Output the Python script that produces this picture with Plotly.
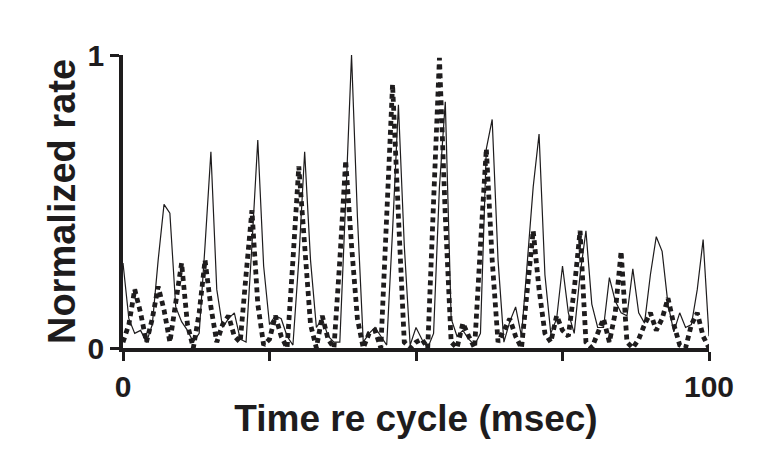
import plotly.graph_objects as go

# tempo em ms (bins de 1 ms)
tempo = list(range(101))

# taxa normalizada - linha continua
taxa_solida = [
    0.29, 0.10, 0.05, 0.06, 0.02, 0.08, 0.30, 0.49, 0.46, 0.14,
    0.09, 0.06, 0.02, 0.05, 0.35, 0.67, 0.20, 0.07, 0.10, 0.12,
    0.03, 0.02, 0.35, 0.71, 0.28, 0.08, 0.11, 0.10, 0.04, 0.01,
    0.30, 0.67, 0.30, 0.07, 0.10, 0.04, 0.02, 0.02, 0.50, 1.00,
    0.45, 0.02, 0.05, 0.07, 0.04, 0.01, 0.40, 0.83, 0.35, 0.01,
    0.07, 0.03, 0.00, 0.05, 0.55, 0.84, 0.10, 0.04, 0.06, 0.03,
    0.01, 0.05, 0.68, 0.78, 0.30, 0.02, 0.09, 0.14, 0.04, 0.30,
    0.55, 0.73, 0.25, 0.05, 0.10, 0.28, 0.12, 0.05, 0.25, 0.40,
    0.15, 0.07, 0.07, 0.24, 0.16, 0.12, 0.11, 0.27, 0.12, 0.085,
    0.25, 0.38, 0.33, 0.15, 0.055, 0.12, 0.07, 0.08, 0.20, 0.37,
    0.04,
]

# taxa normalizada - linha pontilhada
taxa_pontilhada = [
    0.02, 0.08, 0.20, 0.12, 0.02, 0.10, 0.21, 0.13, 0.02, 0.15,
    0.29, 0.08, 0.00, 0.12, 0.30, 0.14, 0.02, 0.08, 0.11, 0.04,
    0.02, 0.25, 0.47, 0.15, 0.01, 0.03, 0.11, 0.04, 0.00, 0.30,
    0.62, 0.35, 0.08, 0.00, 0.11, 0.03, 0.00, 0.30, 0.64, 0.35,
    0.10, 0.00, 0.05, 0.06, 0.00, 0.45, 0.90, 0.45, 0.02, 0.00,
    0.02, 0.03, 0.00, 0.50, 0.99, 0.45, 0.02, 0.00, 0.085, 0.04,
    0.00, 0.35, 0.68, 0.30, 0.02, 0.06, 0.10, 0.04, 0.00, 0.20,
    0.40, 0.20, 0.05, 0.02, 0.11, 0.06, 0.04, 0.20, 0.40, 0.02,
    0.00, 0.05, 0.10, 0.02, 0.12, 0.33, 0.02, 0.00, 0.03, 0.08,
    0.12, 0.06, 0.10, 0.17, 0.08, 0.01, 0.00, 0.08, 0.12, 0.04,
    0.00,
]

x_ticks = [0, 25, 50, 75, 100]
x_labels = ['0', '', '', '', '100']
y_ticks = [0, 1]
y_labels = ['0', '1']

cor = '#1e1c1d'
fonte = 'Liberation Sans, Arial, sans-serif'

fig = go.Figure()

fig.add_trace(go.Scatter(x=tempo, y=taxa_pontilhada, mode='lines',
                         line=dict(color=cor, width=4.8, dash='5px,4px')))
fig.add_trace(go.Scatter(x=tempo, y=taxa_solida, mode='lines',
                         line=dict(color=cor, width=1.2)))

# a pagina tem 8px de margem no body, por isso as margens compensam
fig.update_layout(
    width=757, height=449,
    margin=dict(l=115, r=56, t=47, b=109),
    plot_bgcolor='white', paper_bgcolor='white',
    showlegend=False,
    font=dict(family=fonte, color=cor),
)

fig.update_xaxes(
    range=[0, 100], showgrid=False, zeroline=False, automargin=False,
    showline=True, linecolor=cor, linewidth=3.5,
    ticks='outside', ticklen=9, tickwidth=3, tickcolor=cor,
    tickvals=x_ticks, ticktext=x_labels,
    tickfont=dict(size=30, weight='bold', family=fonte),
    title=dict(text='Time re cycle (msec)', standoff=4,
               font=dict(size=37, weight='bold', family=fonte)),
)

fig.update_yaxes(
    range=[0, 1], showgrid=False, zeroline=False, automargin=False,
    showline=True, linecolor=cor, linewidth=3.5,
    ticks='outside', ticklen=9, tickwidth=3, tickcolor=cor,
    tickvals=y_ticks, ticktext=y_labels,
    tickfont=dict(size=30, weight='bold', family=fonte),
    title=dict(text='Normalized rate', standoff=1,
               font=dict(size=38, weight='bold', family=fonte)),
)

fig.write_html('out.html')
